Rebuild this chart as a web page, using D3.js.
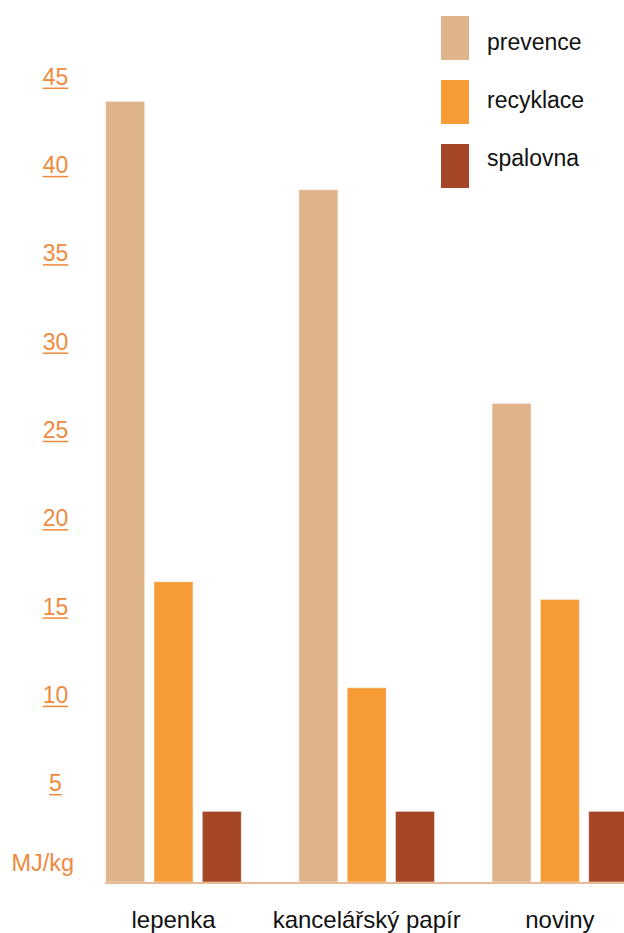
<!DOCTYPE html>
<html>
<head>
<meta charset="utf-8">
<script src="https://cdn.jsdelivr.net/npm/d3@7"></script>
<style>
  html, body { margin: 0; padding: 0; background: #fff; }
  svg { display: block; }
  text { font-family: "Liberation Sans", Arial, sans-serif; }
</style>
</head>
<body>
<div id="chart"></div>
<script>
// ---- data ----
const categories = ["lepenka", "kancelářský papír", "noviny"];
const seriesNames = ["prevence", "recyklace", "spalovna"];
const prevence = [44.2, 39.2, 27.1];
const recyklace = [17.0, 11.0, 16.0];
const spalovna = [4.0, 4.0, 4.0];
const yTicks = [5, 10, 15, 20, 25, 30, 35, 40, 45];
const yUnit = "MJ/kg";
const colors = ["#e0b48a", "#f79b37", "#a54727"];

const seriesValues = [prevence, recyklace, spalovna];

const W = 624, H = 933;
const svg = d3.select("#chart").append("svg").attr("width", W).attr("height", H);

const y = d3.scaleLinear().domain([0, 45]).range([882, 87.3]);

const x0 = d3.scaleBand().domain(categories).range([101.05, 101.05 + 579.6]).paddingInner(0).paddingOuter(0);
const x1 = d3.scaleBand().domain(seriesNames).range([4.65, 4.65 + 135.6]).paddingInner(0.1925).paddingOuter(0);

// bars
const groups = svg.selectAll("g.grp").data(categories).join("g")
  .attr("class", "grp")
  .attr("transform", d => `translate(${x0(d)},0)`);

groups.selectAll("rect").data((c, ci) => seriesNames.map((s, si) => ({ s, si, v: seriesValues[si][ci] })))
  .join("rect")
  .attr("x", d => x1(d.s))
  .attr("width", x1.bandwidth())
  .attr("y", d => y(d.v))
  .attr("height", d => y(0) - y(d.v))
  .attr("fill", d => colors[d.si])
  .attr("stroke", "rgba(255,255,255,0.45)")
  .attr("stroke-width", 1);

// baseline
svg.append("line")
  .attr("x1", 105).attr("x2", W)
  .attr("y1", y(0) + 1).attr("y2", y(0) + 1)
  .attr("stroke", "#e5bc96").attr("stroke-width", 2);

// y axis labels (underlined)
const yAxis = svg.append("g")
  .attr("transform", "translate(55.5,0)")
  .call(d3.axisLeft(y).tickValues(yTicks).tickSize(0).tickPadding(0));
yAxis.select(".domain").remove();
yAxis.selectAll(".tick text")
  .attr("x", 0).attr("dy", -3)
  .attr("text-anchor", "middle")
  .attr("fill", "#ef8a3d")
  .style("font-size", "23px")
  .style("font-family", "'Liberation Sans', Arial, sans-serif");
yAxis.selectAll(".tick").each(function() {
  const t = d3.select(this).select("text").node();
  const bb = t.getBBox();
  d3.select(this).append("line")
    .attr("x1", bb.x).attr("x2", bb.x + bb.width)
    .attr("y1", 0.5).attr("y2", 0.5)
    .attr("stroke", "#ef8a3d").attr("stroke-width", 1.5);
});

svg.append("text")
  .attr("x", 11.5).attr("y", 871)
  .attr("fill", "#ef8a3d")
  .style("font-size", "23.5px")
  .text(yUnit);

// x labels
svg.selectAll("text.xlab").data(categories).join("text")
  .attr("class", "xlab")
  .attr("x", d => x0(d) + (x1.range()[0] + x1.range()[1]) / 2)
  .attr("y", 928)
  .attr("text-anchor", "middle")
  .attr("fill", "#111")
  .style("font-size", "24px")
  .text(d => d);

// legend
const leg = svg.selectAll("g.leg").data(seriesNames).join("g")
  .attr("class", "leg");
leg.append("rect")
  .attr("x", 441).attr("y", (d, i) => 16 + i * 64)
  .attr("width", 28).attr("height", 44).attr("fill", (d, i) => colors[i]);
leg.append("text")
  .attr("x", 487).attr("y", (d, i) => 50 + i * 58)
  .attr("fill", "#111")
  .style("font-size", "23px").text(d => d);
</script>
</body>
</html>
